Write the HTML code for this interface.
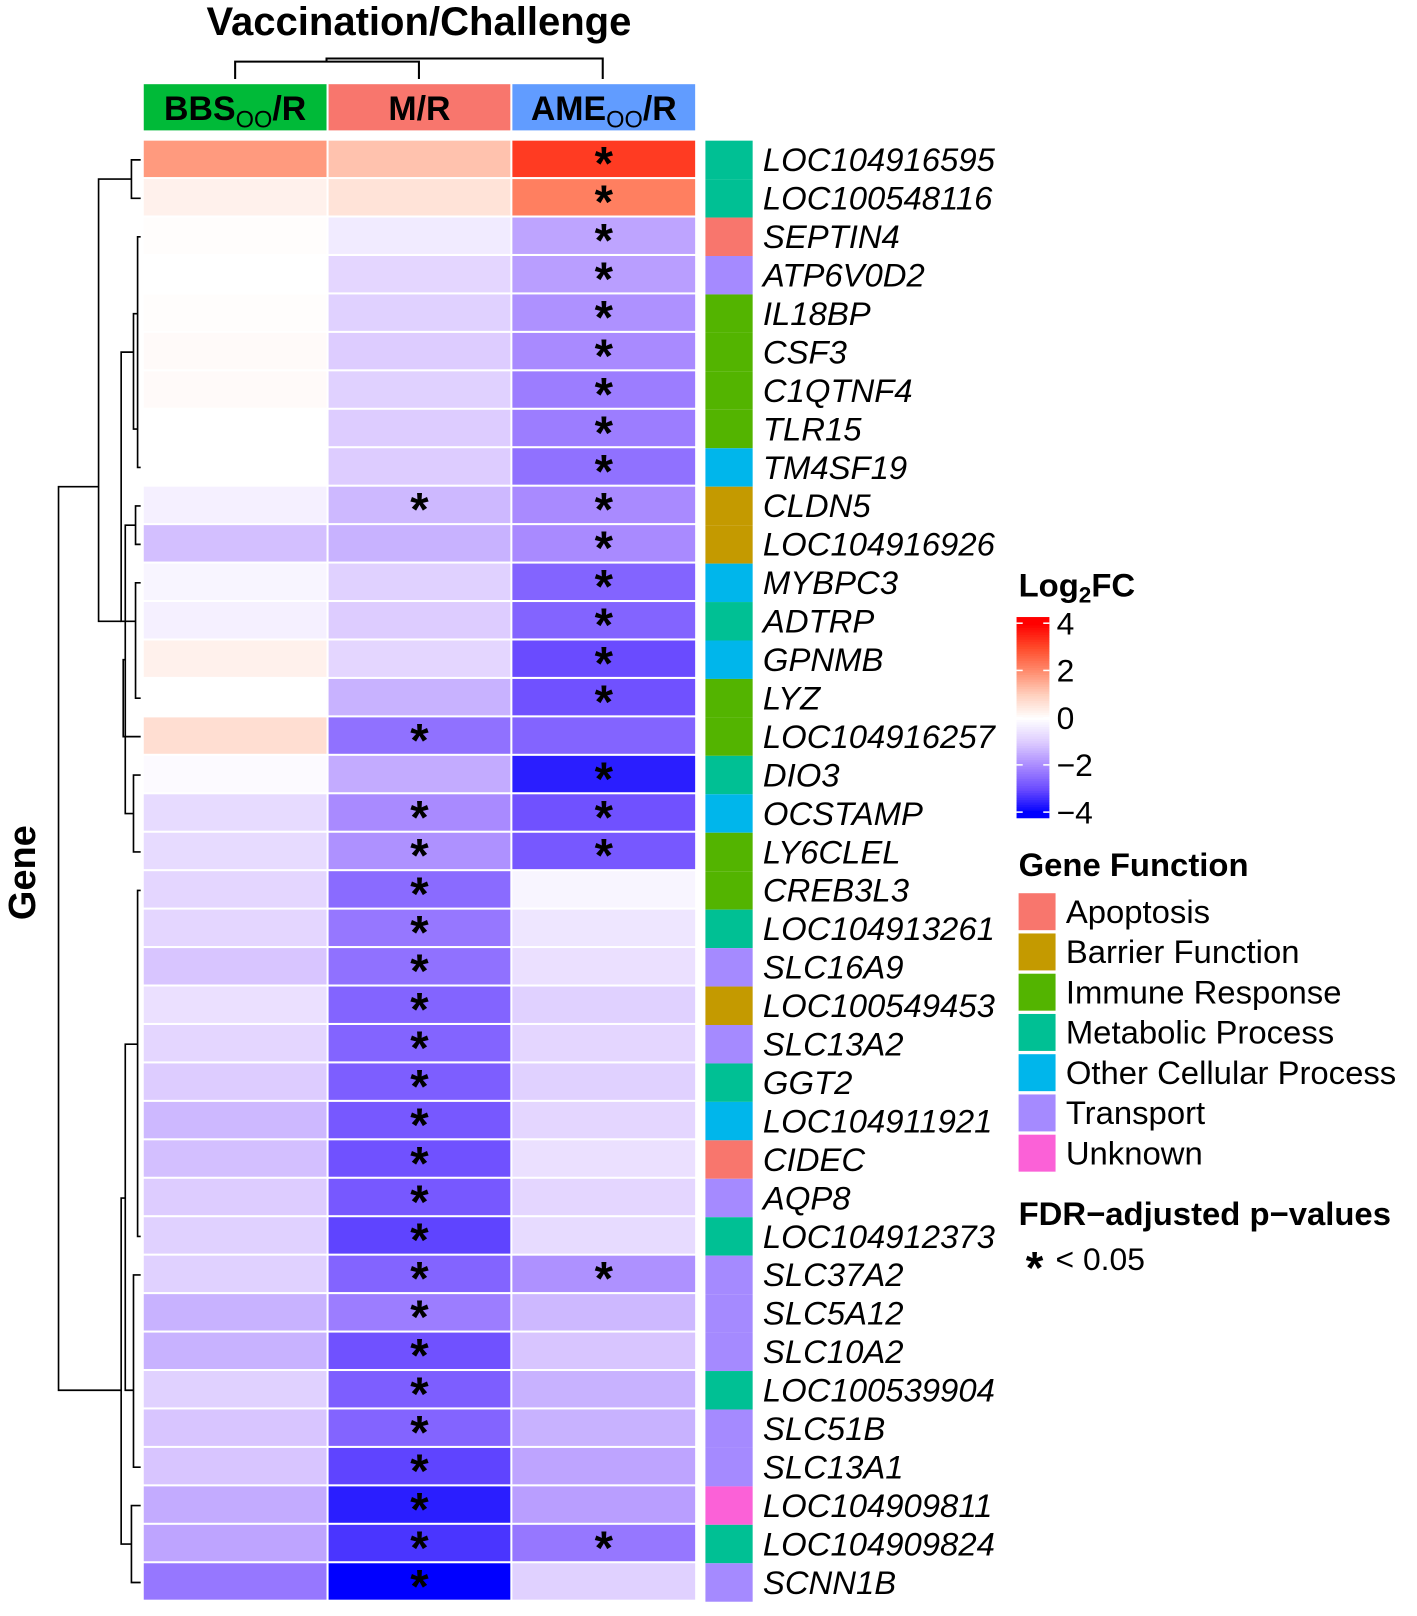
<!DOCTYPE html>
<html><head><meta charset="utf-8"><style>
html,body{margin:0;padding:0;background:#fff;}
svg{display:block;font-family:"Liberation Sans",Arial,sans-serif;}
</style></head><body>
<svg id="chart" width="1417" height="1616" viewBox="0 0 1380 1574" preserveAspectRatio="none" xmlns="http://www.w3.org/2000/svg">
<text x="408" y="34" text-anchor="middle" font-size="39" font-weight="bold">Vaccination/Challenge</text>
<g stroke="#000" stroke-width="2" fill="none">
<path d="M229,77 V60 H408 V77"/><path d="M318,60 V57 H587 V77"/>
</g>
<g id="heads"></g>
<g id="cells"></g>
<g id="dendro" stroke="#000" stroke-width="1.6" fill="none"></g>
<text transform="translate(34,850) rotate(-90)" text-anchor="middle" font-size="37" font-weight="bold">Gene</text>
<g id="legend"></g>
</svg>
<script>
const genes=["LOC104916595","LOC100548116","SEPTIN4","ATP6V0D2","IL18BP","CSF3","C1QTNF4","TLR15","TM4SF19","CLDN5","LOC104916926","MYBPC3","ADTRP","GPNMB","LYZ","LOC104916257","DIO3","OCSTAMP","LY6CLEL","CREB3L3","LOC104913261","SLC16A9","LOC100549453","SLC13A2","GGT2","LOC104911921","CIDEC","AQP8","LOC104912373","SLC37A2","SLC5A12","SLC10A2","LOC100539904","SLC51B","SLC13A1","LOC104909811","LOC104909824","SCNN1B"];
const bbs=[1.8,0.3,0.05,0,0.05,0.1,0.1,0,0,-0.3,-1.2,-0.2,-0.3,0.3,0,0.7,-0.1,-0.7,-0.7,-0.8,-0.8,-1.1,-0.6,-0.8,-1.0,-1.3,-1.2,-1.0,-0.9,-0.9,-1.4,-1.4,-0.9,-1.1,-1.1,-1.5,-1.6,-2.3];
const mr=[1.2,0.6,-0.4,-0.8,-0.9,-1.0,-0.9,-1.0,-1.0,-1.3,-1.4,-0.9,-1.0,-0.8,-1.4,-2.4,-1.5,-2.0,-1.9,-2.5,-2.3,-2.4,-2.6,-2.6,-2.7,-2.8,-2.9,-2.8,-3.1,-2.6,-2.2,-2.9,-2.7,-2.6,-3.1,-3.6,-3.3,-4.0];
const ame=[3.2,2.2,-1.6,-1.7,-1.9,-2.0,-2.2,-2.2,-2.4,-2.0,-2.0,-2.6,-2.6,-3.0,-2.9,-2.6,-3.6,-2.9,-2.8,-0.2,-0.5,-0.6,-0.9,-0.8,-0.9,-0.8,-0.6,-0.8,-0.7,-1.9,-1.3,-1.1,-1.4,-1.4,-1.6,-1.7,-2.3,-0.9];
const sigM=[0,0,0,0,0,0,0,0,0,1,0,0,0,0,0,1,0,1,1,1,1,1,1,1,1,1,1,1,1,1,1,1,1,1,1,1,1,1];
const sigA=[1,1,1,1,1,1,1,1,1,1,1,1,1,1,1,0,1,1,1,0,0,0,0,0,0,0,0,0,0,1,0,0,0,0,0,0,1,0];
const func=["M","M","A","T","I","I","I","I","O","B","B","O","M","O","I","I","M","O","I","I","M","T","B","T","M","O","A","T","M","T","T","T","M","T","T","U","M","T"];
const funcNames=["Apoptosis","Barrier Function","Immune Response","Metabolic Process","Other Cellular Process","Transport","Unknown"];
const funcKeys=["A","B","I","M","O","T","U"];
const funcColors={A:"#F8766D",B:"#C49A00",I:"#53B400",M:"#00C094",O:"#00B6EB",T:"#A58AFF",U:"#FB61D7"};
const columns=["BBS","M/R","AME"];
const colTicks=[4,2,0,-2,-4];
const NS="http://www.w3.org/2000/svg";
function mk(tag,attrs,parent){const e=document.createElementNS(NS,tag);for(const k in attrs)e.setAttribute(k,attrs[k]);parent.appendChild(e);return e;}
const stops=[[-4,[0,0,255]],[-3,[106,75,255]],[-2,[169,138,255]],[-1,[221,204,255]],[0,[255,255,255]],[1,[255,208,190]],[2,[255,140,110]],[3,[255,74,42]],[4,[255,0,0]]];
function color(v){v=Math.max(-4,Math.min(4,v));for(let i=0;i<stops.length-1;i++){const a=stops[i],b=stops[i+1];if(v>=a[0]&&v<=b[0]){const t=(v-a[0])/(b[0]-a[0]);const c=a[1].map((x,j)=>Math.round(x+(b[1][j]-x)*t));return `rgb(${c})`;}}return "#fff";}
const colX=[140,320,499],colW=[178,177,178];
const top0=137,pitch=37.45;
const rowY=i=>top0+i*pitch;
const heads=document.getElementById('heads');
const hc=["#00BA38","#F8766D","#619CFF"];
const hlabels=[["BBS","OO","/R"],["M/R","",""],["AME","OO","/R"]];
for(let c=0;c<3;c++){
 const r=mk('rect',{x:colX[c],y:82,width:colW[c],height:45,fill:hc[c]},heads);
 
 
 const t=mk('text',{x:colX[c]+colW[c]/2,y:117,'text-anchor':'middle','font-size':33,'font-weight':'bold'},heads);
 
 
 const h=hlabels[c];
 const s1=mk('tspan',{},t);s1.textContent=h[0];
 if(h[1]){const s2=mk('tspan',{'font-size':23,'font-weight':'normal',dy:7},t);s2.textContent=h[1];const s3=mk('tspan',{dy:-7},t);s3.textContent=h[2];}
}
const cells=document.getElementById('cells');
const vals=[bbs,mr,ame];
genes.forEach((g,i)=>{
 const y=rowY(i);
 for(let c=0;c<3;c++){
  const r=mk('rect',{x:colX[c],y:y,width:colW[c],height:pitch-2,fill:color(vals[c][i])},cells);
  
  
 }
 [[sigM,1],[sigA,2]].forEach(([s,c])=>{if(s[i]){const t=mk('text',{x:colX[c]+colW[c]/2,y:y+38,'text-anchor':'middle','font-size':46,'font-weight':'bold'},cells);t.textContent='*';}});
 const a=mk('rect',{x:687,y:y,width:46,height:pitch,fill:funcColors[func[i]]},cells);
 
 
 const t=mk('text',{x:743,y:y+pitch/2+11,'font-size':32,'font-style':'italic'},cells);
 t.textContent=g;
 
 
});
const cy=i=>rowY(i)+pitch/2;
const d=document.getElementById('dendro');
function link(x,y1,y2,l1,l2){mk('path',{d:`M${l1},${y1} H${x} V${y2} H${l2}`},d);}
link(128,cy(0),cy(1),137,137);
link(134,cy(2),cy(8),137,137);
link(130,cy(4),cy(7),134,134);
link(132,cy(9),cy(10),137,137);
link(132,cy(11),cy(14),137,137);
link(130,cy(16),cy(18),137,137);
link(122,(cy(9)+cy(10))/2,cy(17),132,130);
link(120,cy(15),(cy(9)+cy(17))/2,137,122);
link(118,(cy(4)+cy(6))/2,cy(12),130,132);
link(96,(cy(0)+cy(1))/2,(cy(9)+cy(15))/2,128,118);
link(134,cy(19),cy(28),137,137);
link(130,cy(29),cy(34),137,137);
link(128,cy(35),cy(37),137,137);
link(122,cy(23),cy(32),134,130);
link(118,cy(27),cy(36),122,128);
link(57,(cy(5)+cy(12))/2,cy(32),96,118);
const L=document.getElementById('legend');
let t=mk('text',{x:992,y:581,'font-size':32,'font-weight':'bold'},L);
mk('tspan',{},t).textContent='Log';mk('tspan',{'font-size':22,dy:6},t).textContent='2';mk('tspan',{dy:-6},t).textContent='FC';
const cbTop=601,cbBot=797,cbScale=v=>cbTop+6+(4-v)/8*(cbBot-cbTop-12);
for(let k=0;k<80;k++){const v=4-k*0.1;const r=mk('rect',{x:990,y:cbScale(v)-0.1,width:32,height:(cbBot-cbTop-12)/80+0.4,fill:color(v)},L);}
mk('rect',{x:990,y:cbTop,width:32,height:7,fill:color(4)},L);mk('rect',{x:990,y:cbBot-7,width:32,height:7,fill:color(-4)},L);
colTicks.forEach(v=>{const y=cbScale(v);mk('line',{x1:990,x2:996,y1:y,y2:y,stroke:'#fff','stroke-width':1.5},L);mk('line',{x1:1016,x2:1022,y1:y,y2:y,stroke:'#fff','stroke-width':1.5},L);const tt=mk('text',{x:1029,y:y+11,'font-size':31},L);tt.textContent=(v<0?'\u2212'+(-v):v);});
t=mk('text',{x:992,y:853,'font-size':32,'font-weight':'bold'},L);t.textContent='Gene Function';
funcKeys.forEach((k,j)=>{const y=870+j*39.2;const r=mk('rect',{x:992,y:y,width:36,height:36,fill:funcColors[k]},L);const tt=mk('text',{x:1038,y:y+29,'font-size':32},L);tt.textContent=funcNames[j];});
t=mk('text',{x:992,y:1193,'font-size':32,'font-weight':'bold'},L);t.textContent='FDR\u2212adjusted p\u2212values';
t=mk('text',{x:999,y:1250,'font-size':44,'font-weight':'bold'},L);t.textContent='*';
t=mk('text',{x:1028,y:1237,'font-size':31},L);t.textContent='< 0.05';
</script>
</body></html>
